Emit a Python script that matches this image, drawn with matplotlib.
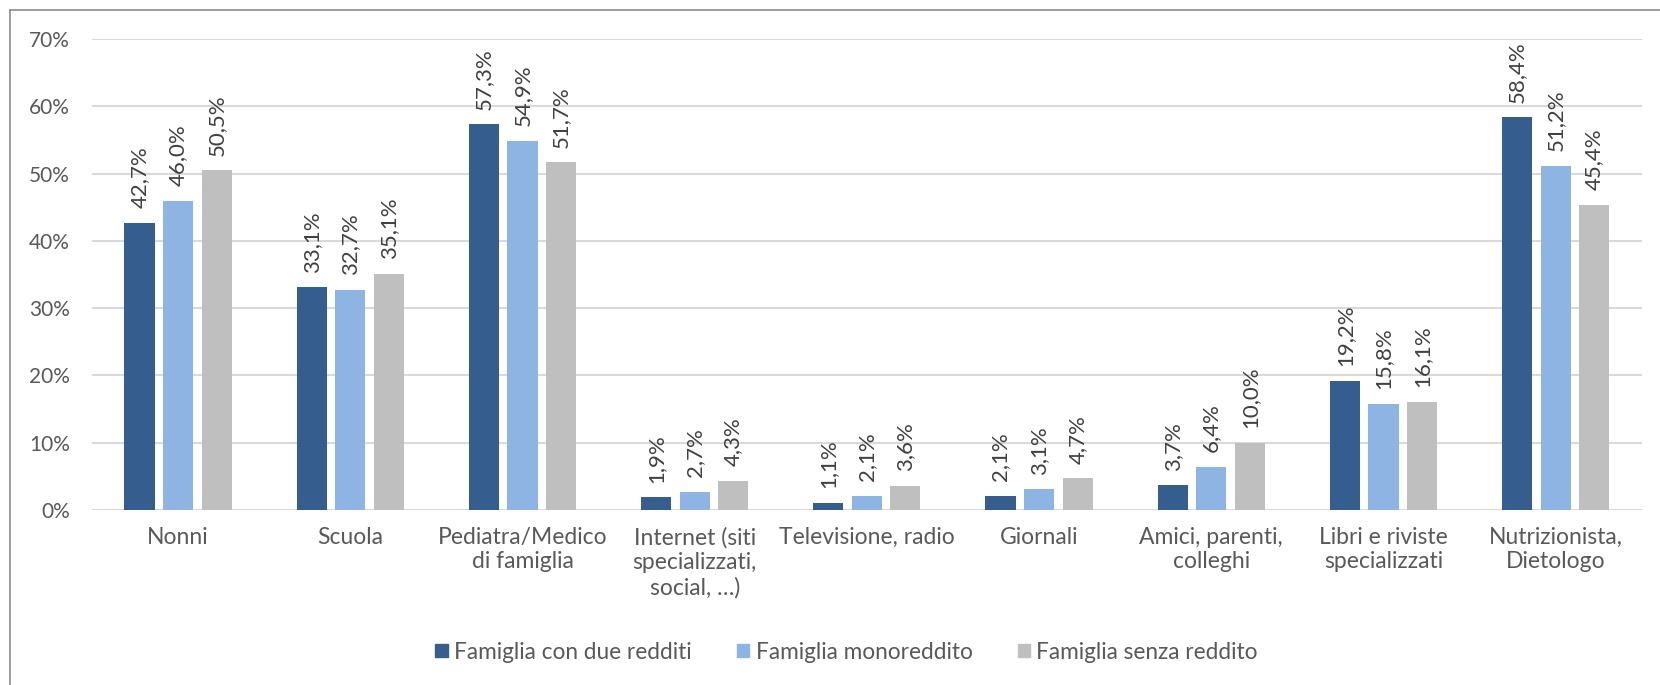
import numpy as np
import matplotlib
matplotlib.use("Agg")
import matplotlib.pyplot as plt
from matplotlib.lines import Line2D

# Categorie e serie (valori in %)
categorie = [
    "Nonni",
    "Scuola",
    "Pediatra/Medico\ndi famiglia",
    "Internet (siti\nspecializzati,\nsocial, …)",
    "Televisione, radio",
    "Giornali",
    "Amici, parenti,\ncolleghi",
    "Libri e riviste\nspecializzati",
    "Nutrizionista,\nDietologo",
]
due_redditi = [42.7, 33.1, 57.3, 1.9, 1.1, 2.1, 3.7, 19.2, 58.4]
monoreddito = [46.0, 32.7, 54.9, 2.7, 2.1, 3.1, 6.4, 15.8, 51.2]
senza_reddito = [50.5, 35.1, 51.7, 4.3, 3.6, 4.7, 10.0, 16.1, 45.4]
serie_nomi = ["Famiglia con due redditi", "Famiglia monoreddito", "Famiglia senza reddito"]
colori = ["#355E8F", "#8EB4E3", "#BFBFBF"]

plt.rcParams["font.family"] = ["Lato", "DejaVu Sans"]

fig = plt.figure(figsize=(16.6, 6.85), dpi=100)
ax = fig.add_axes([0.0554, 0.2555, 0.9336, 0.6875])

x = np.arange(len(categorie))
passo = 0.224
larghezza = 0.175
for i, (valori, nome, col) in enumerate(zip([due_redditi, monoreddito, senza_reddito], serie_nomi, colori)):
    pos = x + (i - 1) * passo
    ax.bar(pos, valori, width=larghezza, color=col, label=nome, zorder=3)
    for xp, v in zip(pos, valori):
        ax.annotate(f"{v:.1f}%".replace(".", ","), (xp, v), xytext=(0, 10.5),
                    textcoords="offset points", rotation=90, ha="center", va="bottom",
                    fontsize=16, color="#404040")

ax.set_xlim(-0.5, len(categorie) - 0.5)
ax.set_ylim(0, 70)
ax.set_yticks(range(0, 71, 10))
ax.set_yticklabels([f"{t}%" for t in range(0, 71, 10)], fontsize=15)
ax.set_xticks(x)
ax.set_xticklabels(categorie, linespacing=1.22, fontsize=16.5)
ax.tick_params(axis="both", length=0, labelcolor="#595959")
ax.tick_params(axis="y", pad=16)
ax.tick_params(axis="x", pad=12)
ax.grid(axis="y", color="#D9D9D9", linewidth=1.5, zorder=0)
for s in ax.spines.values():
    s.set_visible(False)

handles = [plt.Rectangle((0, 0), 1, 1, color=c) for c in colori]
fig.legend(handles, serie_nomi, loc="center", bbox_to_anchor=(0.51, 0.048), ncol=3,
           frameon=False, fontsize=16.3, labelcolor="#595959", handlelength=0.55,
           handleheight=0.55, handletextpad=0.27, columnspacing=2.0)

# cornice del grafico (sinistra e in alto)
fig.add_artist(Line2D([0.006, 0.006], [0.0, 0.986], color="#8C8C8C", linewidth=1.2))
fig.add_artist(Line2D([0.006, 1.0], [0.986, 0.986], color="#8C8C8C", linewidth=1.2))

fig.savefig("out.png", dpi=100, facecolor="white")
